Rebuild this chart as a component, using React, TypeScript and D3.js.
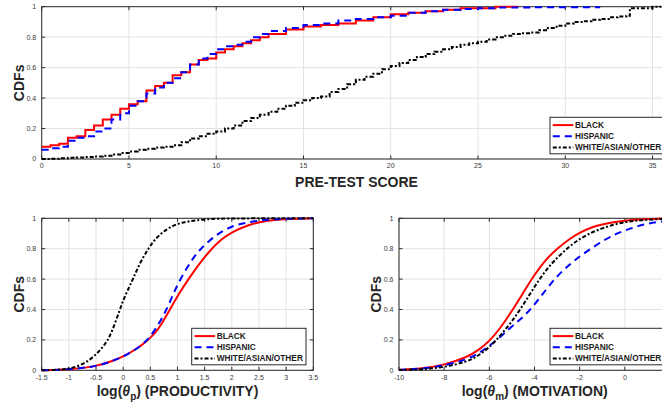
import React from "react";
import * as d3 from "d3";

// ---------- DATA ----------
const seriesNames = ["BLACK", "HISPANIC", "WHITE/ASIAN/OTHER"];
const yTicks = [0, 0.2, 0.4, 0.6, 0.8, 1];

// Top panel: pre-test score empirical CDFs (step)
const scoreTicks = [0, 5, 10, 15, 20, 25, 30, 35];
const blackScoreX = [0, 0.5, 1, 1.5, 2, 2.5, 3, 3.5, 4, 4.5, 5, 5.5, 6, 6.5, 7, 7.5, 8, 8.5, 9, 9.5, 10, 10.5, 11, 11.5, 12, 12.5, 13, 14, 15, 16, 17, 18, 19, 20, 21, 22, 23, 24, 25, 26, 27.3];
const blackScoreCdf = [0.08, 0.09, 0.10, 0.14, 0.15, 0.19, 0.22, 0.26, 0.29, 0.33, 0.36, 0.38, 0.45, 0.48, 0.50, 0.55, 0.57, 0.62, 0.65, 0.66, 0.70, 0.72, 0.74, 0.76, 0.78, 0.80, 0.82, 0.85, 0.87, 0.88, 0.89, 0.91, 0.93, 0.95, 0.96, 0.97, 0.98, 0.99, 0.99, 1.0, 1.0];
const hispScoreX = [0, 0.5, 1, 1.5, 2, 2.5, 3, 3.5, 4, 4.5, 5, 5.5, 6, 6.5, 7, 7.5, 8, 8.5, 9, 9.5, 10, 10.5, 11, 11.5, 12, 12.5, 13, 14, 15, 16, 17, 18, 19, 20, 21, 22, 23, 24, 25, 26, 28, 32];
const hispScoreCdf = [0.06, 0.07, 0.08, 0.12, 0.14, 0.15, 0.18, 0.20, 0.26, 0.30, 0.35, 0.38, 0.43, 0.47, 0.50, 0.53, 0.57, 0.62, 0.66, 0.69, 0.72, 0.74, 0.75, 0.77, 0.80, 0.82, 0.84, 0.86, 0.88, 0.89, 0.91, 0.92, 0.93, 0.94, 0.96, 0.97, 0.98, 0.985, 0.99, 0.995, 0.997, 0.997];
const whiteScoreX = [0, 0.5, 1, 1.5, 2, 2.5, 3, 3.5, 4, 4.5, 5, 5.5, 6, 6.5, 7, 7.5, 8, 8.5, 9, 9.5, 10, 10.5, 11, 11.5, 12, 12.5, 13, 13.5, 14, 14.5, 15, 15.5, 16, 16.5, 17, 17.5, 18, 18.5, 19, 19.5, 20, 20.5, 21, 21.5, 22, 22.5, 23, 23.5, 24, 24.5, 25, 25.5, 26, 26.5, 27, 27.5, 28, 28.5, 29, 29.5, 30, 30.5, 31, 31.5, 32, 32.5, 33, 33.5, 33.7, 35, 35.5];
const whiteScoreCdf = [0, 0.002, 0.005, 0.008, 0.01, 0.013, 0.017, 0.022, 0.03, 0.04, 0.05, 0.06, 0.068, 0.075, 0.08, 0.09, 0.11, 0.135, 0.15, 0.165, 0.18, 0.2, 0.22, 0.25, 0.27, 0.29, 0.31, 0.33, 0.35, 0.37, 0.385, 0.4, 0.41, 0.44, 0.46, 0.49, 0.52, 0.54, 0.56, 0.59, 0.61, 0.63, 0.65, 0.67, 0.69, 0.705, 0.72, 0.735, 0.75, 0.76, 0.77, 0.785, 0.8, 0.81, 0.82, 0.825, 0.83, 0.845, 0.86, 0.875, 0.89, 0.9, 0.905, 0.915, 0.92, 0.93, 0.935, 0.94, 0.99, 1.0, 1.0];

// Bottom-left: log(theta_p) productivity CDFs
const prodTicks = [-1.5, -1, -0.5, 0, 0.5, 1, 1.5, 2, 2.5, 3, 3.5];
const blackProdX = [-1.5, -1, -0.5, -0.2, 0, 0.25, 0.46, 0.6, 0.7, 0.86, 1.02, 1.2, 1.4, 1.6, 1.8, 2, 2.3, 2.5, 2.8, 3, 3.5];
const blackProdCdf = [0, 0.005, 0.025, 0.06, 0.09, 0.14, 0.2, 0.25, 0.3, 0.4, 0.5, 0.6, 0.7, 0.79, 0.86, 0.91, 0.955, 0.975, 0.99, 0.995, 1];
const hispProdX = [-1.5, -1, -0.5, -0.2, 0, 0.25, 0.46, 0.65, 0.8, 0.92, 1.05, 1.25, 1.42, 1.7, 2, 2.3, 2.6, 3, 3.5];
const hispProdCdf = [0, 0.005, 0.025, 0.06, 0.09, 0.14, 0.2, 0.3, 0.4, 0.5, 0.6, 0.72, 0.8, 0.89, 0.95, 0.975, 0.99, 0.997, 1];
const whiteProdX = [-1.5, -1.2, -1, -0.8, -0.6, -0.4, -0.28, -0.2, -0.06, 0, 0.1, 0.18, 0.3, 0.46, 0.6, 0.8, 1, 1.2, 1.5, 2, 3.5];
const whiteProdCdf = [0, 0.003, 0.01, 0.03, 0.07, 0.14, 0.2, 0.26, 0.4, 0.46, 0.54, 0.6, 0.7, 0.8, 0.87, 0.93, 0.965, 0.98, 0.995, 1, 1];

// Bottom-right: log(theta_m) motivation CDFs
const motTicks = [-10, -8, -6, -4, -2, 0, 2];
const motX = [-10, -9, -8, -7, -6.5, -6, -5.5, -5, -4.5, -4, -3.5, -3, -2.5, -2, -1.5, -1, -0.5, 0, 0.5, 1, 1.5, 2];
const blackMotCdf = [0.003, 0.01, 0.035, 0.085, 0.13, 0.19, 0.28, 0.39, 0.51, 0.63, 0.73, 0.8, 0.86, 0.905, 0.94, 0.96, 0.975, 0.985, 0.99, 0.995, 0.998, 1];
const hispMotCdf = [0.003, 0.01, 0.03, 0.07, 0.11, 0.16, 0.22, 0.29, 0.35, 0.43, 0.53, 0.62, 0.69, 0.75, 0.8, 0.85, 0.89, 0.92, 0.945, 0.965, 0.978, 0.985];
const whiteMotCdf = [0.002, 0.006, 0.02, 0.055, 0.095, 0.15, 0.23, 0.32, 0.43, 0.55, 0.66, 0.74, 0.81, 0.865, 0.905, 0.935, 0.958, 0.975, 0.985, 0.99, 0.995, 0.997];

// ---------- STYLE ----------
const FONT = "'Liberation Sans', Arial, Helvetica, sans-serif";
const AX = "#2b2b2b";
const GRID = "#e2e2e2";
const styles = [
  { color: "#ff0000", dash: "" },
  { color: "#0000ff", dash: "7,5" },
  { color: "#000000", dash: "4,2,2,2" },
];

type Series = { xs: number[]; ys: number[] };

type PanelProps = {
  x0: number; x1: number; y0: number; y1: number;
  domain: [number, number];
  ticks: number[];
  grid: number[];
  series: Series[];
  step: boolean;
  legendX: number; legendY: number; legendW: number;
  ylabX: number;
  xlab: React.ReactNode;
  xlabX: number;
  xlabY: number;
};

function Panel(p: PanelProps) {
  const x = d3.scaleLinear().domain(p.domain).range([p.x0, p.x1]);
  const y = d3.scaleLinear().domain([0, 1]).range([p.y1, p.y0]);
  const line = d3
    .line<[number, number]>()
    .x((d) => x(d[0]))
    .y((d) => y(d[1]))
    .curve(p.step ? d3.curveStepAfter : d3.curveBasis);
  const tl = 3.5;
  const ymid = (p.y0 + p.y1) / 2;
  return (
    <g>
      {p.grid.map((g, i) => (
        <line key={"gx" + i} x1={x(g)} x2={x(g)} y1={p.y0} y2={p.y1} stroke={GRID} strokeWidth={1} />
      ))}
      {yTicks.map((t, i) => (
        <line key={"gy" + i} x1={p.x0} x2={p.x1} y1={y(t)} y2={y(t)} stroke={GRID} strokeWidth={1} />
      ))}
      <rect x={p.x0} y={p.y0} width={p.x1 - p.x0} height={p.y1 - p.y0} fill="none" stroke={AX} strokeWidth={1} />
      {p.ticks.map((t, i) => (
        <g key={"tx" + i}>
          <line x1={x(t)} x2={x(t)} y1={p.y1} y2={p.y1 - tl} stroke={AX} strokeWidth={1} />
          <line x1={x(t)} x2={x(t)} y1={p.y0} y2={p.y0 + tl} stroke={AX} strokeWidth={1} />
          {x(t) < 658 && (
            <text x={x(t)} y={p.y1 + 7} dy="0.35em" textAnchor="middle" fontSize={7} fill="#3a3a3a" fontFamily={FONT}>
              {String(t)}
            </text>
          )}
        </g>
      ))}
      {yTicks.map((t, i) => (
        <g key={"ty" + i}>
          <line x1={p.x0} x2={p.x0 + tl} y1={y(t)} y2={y(t)} stroke={AX} strokeWidth={1} />
          <line x1={p.x1} x2={p.x1 - tl} y1={y(t)} y2={y(t)} stroke={AX} strokeWidth={1} />
          <text x={p.x0 - 5.5} y={y(t)} dy="0.35em" textAnchor="end" fontSize={7} fill="#3a3a3a" fontFamily={FONT}>
            {String(t)}
          </text>
        </g>
      ))}
      {p.series.map((s, i) => (
        <path
          key={"s" + i}
          d={line(s.xs.map((v, j) => [v, s.ys[j]] as [number, number])) || ""}
          fill="none"
          stroke={styles[i].color}
          strokeWidth={2}
          strokeDasharray={styles[i].dash || undefined}
        />
      ))}
      <text
        transform={`translate(${p.ylabX},${ymid}) rotate(-90)`}
        textAnchor="middle"
        fontSize={14}
        fontWeight="bold"
        fill="#262626"
        fontFamily={FONT}
      >
        CDFs
      </text>
      <text x={p.xlabX} y={p.xlabY} textAnchor="middle" fontSize={14} fontWeight="bold" fill="#262626" fontFamily={FONT}>
        {p.xlab}
      </text>
      <g>
        <rect x={p.legendX} y={p.legendY} width={p.legendW} height={36.5} fill="#fff" stroke={AX} strokeWidth={1} />
        {seriesNames.map((n, i) => {
          const ry = p.legendY + 7.8 + i * 11.2;
          return (
            <g key={"lg" + i}>
              <line
                x1={p.legendX + 2.8}
                x2={p.legendX + 23.3}
                y1={ry}
                y2={ry}
                stroke={styles[i].color}
                strokeWidth={2}
                strokeDasharray={styles[i].dash || undefined}
              />
              <text x={p.legendX + 25} y={ry} dy="0.35em" fontSize={8.3} fontWeight="bold" fill="#1a1a1a" fontFamily={FONT}>
                {n}
              </text>
            </g>
          );
        })}
      </g>
    </g>
  );
}

export default function App() {
  const halfGrid = d3.range(-1.5, 3.5001, 0.5);
  return (
    <svg
      width={662}
      height={412}
      viewBox="0 0 662 412"
      style={{ position: "absolute", left: 0, top: 0, background: "#fff", overflow: "hidden" }}
    >
      <rect x={0} y={0} width={662} height={412} fill="#fff" />
      <Panel
        x0={41.7}
        x1={670}
        y0={6.7}
        y1={159}
        domain={[0, 36]}
        ticks={scoreTicks}
        grid={scoreTicks}
        step={true}
        series={[
          { xs: blackScoreX, ys: blackScoreCdf },
          { xs: hispScoreX, ys: hispScoreCdf },
          { xs: whiteScoreX, ys: whiteScoreCdf },
        ]}
        legendX={550}
        legendY={117.3}
        legendW={118}
        ylabX={24}
        xlab={"PRE-TEST SCORE"}
        xlabX={356.5}
        xlabY={187}
      />
      <Panel
        x0={41.7}
        x1={313.3}
        y0={218.3}
        y1={370.3}
        domain={[-1.5, 3.5]}
        ticks={prodTicks}
        grid={halfGrid}
        step={false}
        series={[
          { xs: blackProdX, ys: blackProdCdf },
          { xs: hispProdX, ys: hispProdCdf },
          { xs: whiteProdX, ys: whiteProdCdf },
        ]}
        legendX={191.7}
        legendY={328.3}
        legendW={114.3}
        ylabX={24}
        xlab={
          <>
            log(<tspan fontStyle="italic">θ</tspan>
            <tspan dy={4} fontSize={10}>p</tspan>
            <tspan dy={-4}>) (PRODUCTIVITY)</tspan>
          </>
        }
        xlabX={177.5}
        xlabY={396}
      />
      <Panel
        x0={399}
        x1={670}
        y0={218.3}
        y1={370.3}
        domain={[-10, 2]}
        ticks={motTicks}
        grid={motTicks}
        step={false}
        series={[
          { xs: motX, ys: blackMotCdf },
          { xs: motX, ys: hispMotCdf },
          { xs: motX, ys: whiteMotCdf },
        ]}
        legendX={550}
        legendY={328.3}
        legendW={118}
        ylabX={380.7}
        xlab={
          <>
            log(<tspan fontStyle="italic">θ</tspan>
            <tspan dy={4} fontSize={10}>m</tspan>
            <tspan dy={-4}>) (MOTIVATION)</tspan>
          </>
        }
        xlabX={534.7}
        xlabY={396}
      />
    </svg>
  );
}
